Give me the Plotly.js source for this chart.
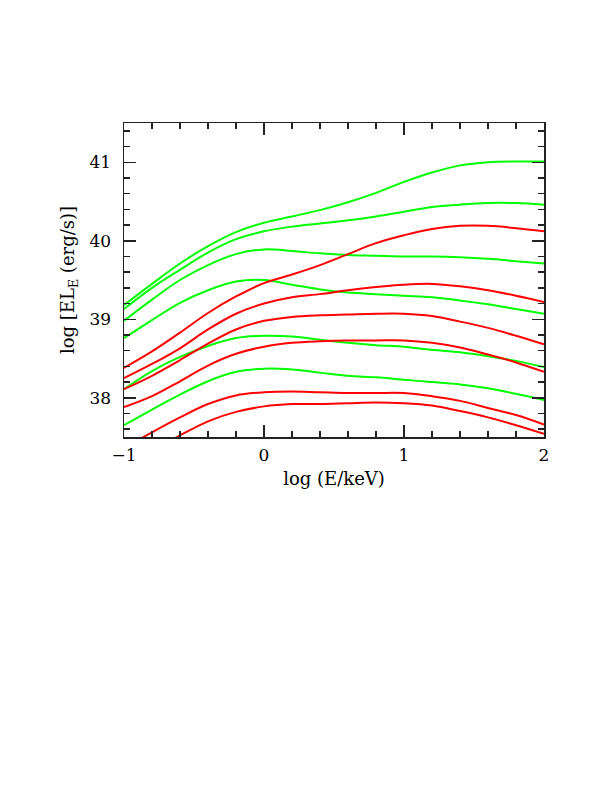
<!DOCTYPE html>
<html><head><meta charset="utf-8">
<script src="https://cdn.plot.ly/plotly-3.0.1.min.js"></script>
<style>html,body{margin:0;padding:0;background:#fff}</style>
</head><body><div id="chart" style="width:612px;height:792px"></div>
<script>
// log (E/keV) sample positions
const logE = [-1, -0.8, -0.6, -0.4, -0.2, 0, 0.2, 0.4, 0.6, 0.8, 1.0, 1.2, 1.4, 1.6, 1.8, 2.0];

// green spectra (log EL_E)
const green1 = [39.18, 39.45, 39.71, 39.93, 40.11, 40.23, 40.31, 40.39, 40.49, 40.61, 40.75, 40.87, 40.96, 41.00, 41.01, 41.01];
const green2 = [39.13, 39.40, 39.63, 39.85, 40.02, 40.12, 40.18, 40.22, 40.26, 40.31, 40.37, 40.43, 40.46, 40.48, 40.48, 40.46];
const green3 = [38.98, 39.25, 39.50, 39.69, 39.83, 39.89, 39.87, 39.84, 39.82, 39.81, 39.80, 39.80, 39.79, 39.77, 39.74, 39.71];
const green4 = [38.76, 38.99, 39.21, 39.37, 39.48, 39.50, 39.44, 39.38, 39.34, 39.32, 39.30, 39.28, 39.24, 39.19, 39.13, 39.07];
const green5 = [38.11, 38.34, 38.52, 38.66, 38.76, 38.79, 38.78, 38.74, 38.70, 38.67, 38.65, 38.61, 38.58, 38.53, 38.47, 38.39];
const green6 = [37.65, 37.85, 38.04, 38.21, 38.33, 38.37, 38.36, 38.32, 38.28, 38.26, 38.23, 38.20, 38.17, 38.12, 38.05, 37.97];

// red spectra (log EL_E)
const red1 = [38.38, 38.59, 38.83, 39.08, 39.29, 39.46, 39.57, 39.69, 39.83, 39.97, 40.07, 40.15, 40.19, 40.19, 40.16, 40.12];
const red2 = [38.25, 38.43, 38.63, 38.87, 39.07, 39.20, 39.28, 39.32, 39.37, 39.41, 39.44, 39.45, 39.42, 39.37, 39.30, 39.22];
const red3 = [38.11, 38.28, 38.48, 38.69, 38.87, 38.98, 39.03, 39.05, 39.06, 39.07, 39.07, 39.04, 38.97, 38.89, 38.79, 38.68];
const red4 = [37.88, 38.02, 38.21, 38.41, 38.56, 38.65, 38.70, 38.72, 38.73, 38.73, 38.73, 38.70, 38.64, 38.55, 38.45, 38.33];
const red5 = [37.36, 37.56, 37.75, 37.92, 38.03, 38.07, 38.08, 38.07, 38.06, 38.06, 38.06, 38.02, 37.96, 37.87, 37.78, 37.66];
const red6 = [37.12, 37.32, 37.52, 37.70, 37.82, 37.89, 37.92, 37.92, 37.93, 37.94, 37.93, 37.90, 37.83, 37.75, 37.65, 37.54];

const greens = [green1, green2, green3, green4, green5, green6];
const reds = [red1, red2, red3, red4, red5, red6];

const GREEN = '#00ff00', RED = '#ff0000';
const traces = [];
greens.forEach(g => traces.push({x: logE, y: g, mode: 'lines', line: {color: GREEN, width: 2, shape: 'spline', smoothing: 1}, hoverinfo: 'skip'}));
reds.forEach(r => traces.push({x: logE, y: r, mode: 'lines', line: {color: RED, width: 2, shape: 'spline', smoothing: 1}, hoverinfo: 'skip'}));

const FONT = 'DejaVu Serif, Liberation Serif, serif';
const axisCommon = {
  showgrid: false, zeroline: false,
  showline: true, linecolor: '#222', linewidth: 1.5, mirror: 'allticks',
  ticks: 'inside', ticklen: 12, tickwidth: 1.5, tickcolor: '#222',
  minor: {dtick: 0.2, ticks: 'inside', ticklen: 6, tickwidth: 1.5, tickcolor: '#222', showgrid: false},
  tickfont: {family: FONT, size: 17, color: '#000'}
};

const layout = {
  width: 612, height: 792,
  margin: {l: 124, r: 68, t: 123, b: 355},
  paper_bgcolor: '#fff', plot_bgcolor: '#fff',
  showlegend: false,
  xaxis: Object.assign({}, axisCommon, {
    range: [-1, 2], dtick: 1, tick0: 0, ticklabelstandoff: 2,
    title: {text: 'log (E/keV)', font: {family: FONT, size: 18, color: '#000'}, standoff: 8}
  }),
  yaxis: Object.assign({}, axisCommon, {
    range: [37.5, 41.5], dtick: 1, tick0: 0, ticklabelstandoff: 8,
    title: {text: 'log [EL<sub>E</sub> (erg/s)]', font: {family: FONT, size: 18, color: '#000'}, standoff: 10}
  })
};

Plotly.newPlot('chart', traces, layout, {staticPlot: true, displayModeBar: false});
</script>
</body></html>
